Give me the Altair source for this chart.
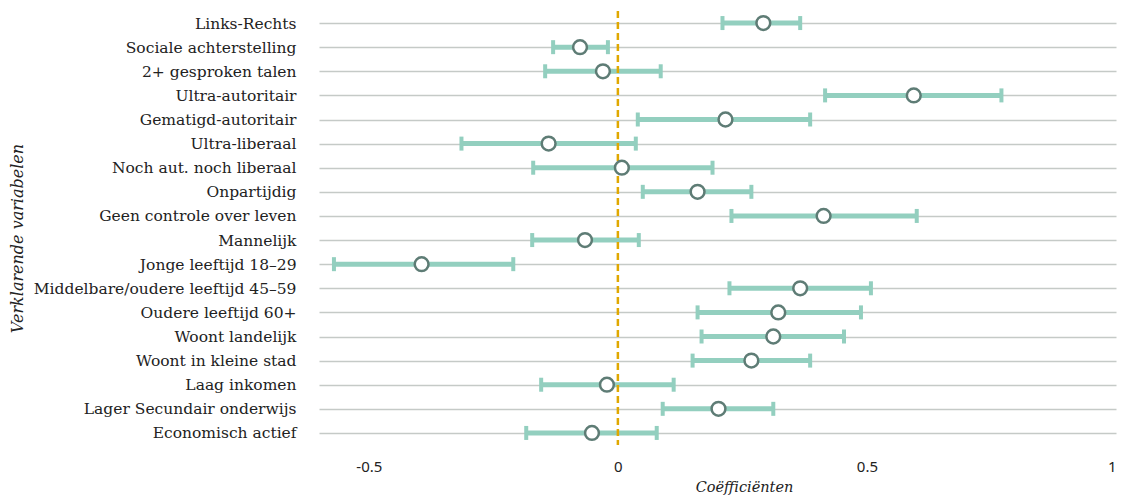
import altair as alt
import pandas as pd

labels = [
    "Links-Rechts",
    "Sociale achterstelling",
    "2+ gesproken talen",
    "Ultra-autoritair",
    "Gematigd-autoritair",
    "Ultra-liberaal",
    "Noch aut. noch liberaal",
    "Onpartijdig",
    "Geen controle over leven",
    "Mannelijk",
    "Jonge leeftijd 18–29",
    "Middelbare/oudere leeftijd 45–59",
    "Oudere leeftijd 60+",
    "Woont landelijk",
    "Woont in kleine stad",
    "Laag inkomen",
    "Lager Secundair onderwijs",
    "Economisch actief",
]
coef = [0.292, -0.076, -0.030, 0.594, 0.216, -0.139, 0.008, 0.160, 0.413, -0.066,
        -0.394, 0.366, 0.322, 0.312, 0.268, -0.022, 0.202, -0.052]
lower = [0.210, -0.130, -0.146, 0.416, 0.040, -0.314, -0.170, 0.050, 0.228, -0.172,
         -0.570, 0.224, 0.160, 0.168, 0.150, -0.154, 0.090, -0.184]
upper = [0.366, -0.020, 0.086, 0.770, 0.386, 0.036, 0.190, 0.268, 0.600, 0.042,
         -0.210, 0.508, 0.488, 0.454, 0.386, 0.112, 0.312, 0.078]
x_ticks = [-0.5, 0, 0.5, 1]

df = pd.DataFrame({"label": labels, "coef": coef, "lo": lower, "hi": upper})

SERIF = "DejaVu Serif"
TEAL = "#93cfbf"
DARK = "#5e7c75"

xscale = alt.Scale(domain=[-0.6, 1.0], nice=False, zero=False)
yscale = alt.Scale(type="point", padding=0.5)

x_axis = alt.Axis(
    values=x_ticks, labelExpr="datum.value + ''", grid=False, domain=False, ticks=False,
    labelFont="Noto Sans", labelFontSize=15, labelColor="#222222", labelPadding=14,
    title="Coëfficiënten", titleFont=SERIF, titleFontStyle="italic", titleFontWeight="normal",
    titleFontSize=14.5, titleColor="#222222", titleX=425, titleY=42, titleBaseline="middle",
    titleAlign="center",
)
y_axis = alt.Axis(
    grid=True, gridColor="#c5cac7", gridWidth=1.5, domain=False, ticks=False,
    labelFont=SERIF, labelFontSize=15.5, labelColor="#222222", labelPadding=23, labelLimit=400,
    title="Verklarende variabelen", titleFont=SERIF, titleFontStyle="italic",
    titleFontWeight="normal", titleFontSize=16, titleColor="#222222",
    titleX=-302, titleY=227, titleAngle=-90, titleAlign="center", titleBaseline="middle",
)

base = alt.Chart(df)

bars = base.mark_rule(color=TEAL, strokeWidth=5).encode(
    x=alt.X("lo:Q", scale=xscale, axis=x_axis),
    x2="hi:Q",
    y=alt.Y("label:N", sort=labels, scale=yscale, axis=y_axis),
)
cap_lo = base.mark_tick(color=TEAL, thickness=4, size=14, opacity=1).encode(
    x=alt.X("lo:Q", scale=xscale), y=alt.Y("label:N", sort=labels, scale=yscale)
)
cap_hi = base.mark_tick(color=TEAL, thickness=4, size=14, opacity=1).encode(
    x=alt.X("hi:Q", scale=xscale), y=alt.Y("label:N", sort=labels, scale=yscale)
)
zero = alt.Chart(pd.DataFrame({"z": [0]})).mark_rule(
    color="#e0a800", strokeWidth=2.5, strokeDash=[7, 4]
).encode(x=alt.X("z:Q", scale=xscale))
points = base.mark_point(
    shape="circle", filled=True, fill="white", stroke=DARK, strokeWidth=2.5, size=190, opacity=1
).encode(
    x=alt.X("coef:Q", scale=xscale), y=alt.Y("label:N", sort=labels, scale=yscale)
)

chart = alt.layer(bars, cap_lo, cap_hi, zero, points).properties(
    width=797, height=434,
    background="white",
    autosize=alt.AutoSizeParams(type="none"),
    padding={"left": 311, "top": 3, "right": 3, "bottom": 50},
).configure_view(stroke=None)

chart.save("out.html", embed_options={"renderer": "svg", "actions": False})
